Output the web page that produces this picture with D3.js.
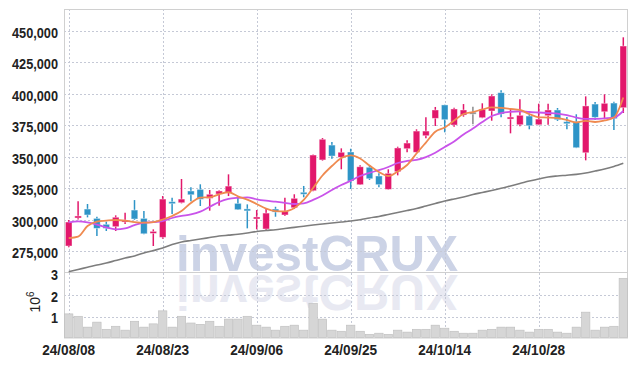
<!DOCTYPE html>
<html>
<head>
<meta charset="utf-8">
<script src="https://cdn.jsdelivr.net/npm/d3@7"></script>
<style>
  html, body { margin: 0; padding: 0; background: #ffffff; }
  svg { display: block; }
  .lbl { font-family: "Liberation Sans", Arial, sans-serif; font-weight: bold; font-size: 15px; fill: #222; }
</style>
</head>
<body>
<div id="chart"></div>
<script>
// trading days (yy/mm/dd)
const dates = [
  "24/08/08", "24/08/09", "24/08/12", "24/08/13", "24/08/14", "24/08/16", "24/08/19", "24/08/20", "24/08/21", "24/08/22",
  "24/08/23", "24/08/26", "24/08/27", "24/08/28", "24/08/29", "24/08/30", "24/09/02", "24/09/03", "24/09/04", "24/09/05",
  "24/09/06", "24/09/09", "24/09/10", "24/09/11", "24/09/12", "24/09/13", "24/09/19", "24/09/20", "24/09/23", "24/09/24",
  "24/09/25", "24/09/26", "24/09/27", "24/09/30", "24/10/02", "24/10/04", "24/10/07", "24/10/08", "24/10/10", "24/10/11",
  "24/10/14", "24/10/15", "24/10/16", "24/10/17", "24/10/18", "24/10/21", "24/10/22", "24/10/23", "24/10/24", "24/10/25",
  "24/10/28", "24/10/29", "24/10/30", "24/10/31", "24/11/01", "24/11/04", "24/11/05", "24/11/06", "24/11/07", "24/11/08"
];

const opens = [
  279200, 301400, 308500, 301100, 296400, 294500, 298200, 307700, 301100, 289300,
  286100, 314300, 313500, 322800, 324100, 317000, 320400, 321400, 313000, 308600,
  300800, 292700, 308500, 303800, 309500, 321800, 323000, 347400, 359200, 349500,
  353700, 327800, 341600, 334700, 324100, 338100, 356300, 353500, 366600, 380400,
  391000, 375100, 383000, 385300, 380900, 386200, 400700, 379900, 375300, 382200,
  375300, 382500, 387000, 377700, 377700, 353100, 391700, 385600, 392500, 388800
];
const highs = [
  299800, 314600, 312500, 302400, 298500, 303500, 305600, 315600, 306900, 292400,
  318800, 317500, 332300, 325700, 328100, 323600, 323300, 336000, 318800, 312200,
  307700, 308500, 310300, 317500, 320200, 326800, 351800, 364800, 361600, 356600,
  356300, 343200, 343400, 336800, 340000, 357900, 363000, 371700, 381200, 389400,
  391200, 388800, 391700, 389600, 392300, 399400, 402600, 388300, 395500, 384100,
  392000, 392000, 388600, 381400, 383600, 397800, 393300, 399400, 393600, 444600
];
const lows = [
  278200, 300300, 301900, 287100, 291100, 291100, 296600, 299800, 288500, 279200,
  285000, 304600, 313000, 314600, 310900, 307200, 311100, 318800, 307800, 293200,
  292400, 291300, 302400, 303000, 308500, 317800, 322500, 346800, 348400, 340000,
  324400, 327500, 331500, 325700, 323900, 335200, 353500, 353200, 364600, 374300,
  369300, 373800, 381700, 375600, 380500, 378500, 381200, 368500, 374100, 371700,
  375000, 375300, 378300, 371700, 356800, 347100, 379100, 379800, 371100, 384600
];
const closes = [
  298200, 303000, 303800, 293200, 293200, 302000, 299800, 300600, 288900, 290800,
  316400, 313000, 316400, 319800, 316200, 320200, 322800, 326700, 308000, 307900,
  302200, 305300, 306100, 306900, 317000, 320400, 351300, 363800, 350500, 353500,
  330700, 342000, 332500, 327800, 336800, 356900, 360800, 370300, 370300, 387000,
  379300, 387800, 387000, 385300, 387500, 398100, 383800, 381400, 382800, 374500,
  379800, 387000, 379300, 376900, 357100, 390200, 381200, 392300, 380100, 437700
];
const volumes = [
  1130000, 1020000, 520000, 750000, 420000, 560000, 380000, 790000, 520000, 670000,
  1270000, 520000, 1020000, 710000, 650000, 790000, 560000, 890000, 890000, 1020000,
  610000, 520000, 380000, 560000, 610000, 380000, 1620000, 890000, 380000, 330000,
  610000, 330000, 190000, 240000, 190000, 380000, 290000, 420000, 420000, 610000,
  470000, 330000, 240000, 240000, 380000, 420000, 520000, 520000, 380000, 290000,
  420000, 420000, 290000, 240000, 520000, 1210000, 380000, 520000, 560000, 2770000
];

const ma5 = [
  285500, 286700, 295000, 298600, 299300, 299800, 299300, 298200, 297700, 298200,
  300200, 303000, 306900, 313300, 317600, 317800, 320200, 321800, 318600, 316000,
  312500, 308800, 306900, 306700, 309300, 315700, 325200, 335100, 342600, 348900,
  351100, 348600, 343000, 337900, 334700, 338300, 343400, 352500, 361200, 369800,
  373100, 378700, 383800, 385400, 387400, 389000, 388700, 387900, 387000, 383800,
  381200, 381000, 380600, 379100, 377100, 378300, 377500, 378700, 381000, 396900
];
const ma20 = [
  298000, 298800, 298000, 296200, 293900, 292400, 293100, 295800, 297700, 298100,
  299000, 301400, 303000, 304200, 306500, 310300, 314100, 316500, 317400, 317800,
  316200, 315100, 314300, 313400, 312500, 313000, 315700, 319200, 323600, 327500,
  330900, 334700, 337200, 339300, 341800, 345000, 346600, 347500, 349700, 353100,
  357700, 362000, 367600, 372300, 377500, 382200, 384600, 385600, 386000, 385400,
  385000, 384600, 384200, 383000, 381000, 380000, 379900, 380400, 381000, 386200
];
const ma120 = [
  258800, 260600, 262300, 264100, 265700, 267700, 269700, 271300, 273700, 275600,
  277600, 280400, 282400, 283600, 284700, 285900, 287100, 287800, 288500, 289500,
  290700, 291500, 292100, 293100, 294000, 294900, 295800, 296600, 297400, 298200,
  299000, 300000, 301400, 302600, 304200, 305800, 307300, 308900, 310900, 312900,
  314900, 316500, 318000, 320000, 321600, 323200, 324900, 326800, 328700, 330700,
  332300, 333900, 334700, 335300, 336000, 337100, 338600, 340200, 342200, 344700
];

const priceTicks = [275000, 300000, 325000, 350000, 375000, 400000, 425000, 450000];
const volTicks = [1, 2, 3];
const dateTicks = ["24/08/08", "24/08/23", "24/09/06", "24/09/25", "24/10/14", "24/10/28"];

const width = 637;
const height = 366;
const plotLeft = 64, plotRight = 628;
const plotTop = 9, plotSplit = 272.3, plotBottom = 337.5;

const svg = d3
  .select("#chart")
  .append("svg")
  .attr("width", width)
  .attr("height", height);

const x = d3.scaleBand().domain(dates).range([plotLeft, plotRight]).padding(0);
const cx = (d) => x(d) + x.bandwidth() / 2;

const y = d3.scaleLinear().domain([258360, 467040]).range([plotSplit, plotTop]);
const yVol = d3.scaleLinear().domain([0, 3e6]).range([338.4, 273.3]);

// watermark + reflection
const wm = svg.append("g");
wm.append("text")
  .attr("x", 176)
  .attr("y", 271)
  .attr("textLength", 282)
  .attr("lengthAdjust", "spacingAndGlyphs")
  .style("font-family", "Liberation Sans, Arial, sans-serif")
  .style("font-weight", "bold")
  .style("font-size", "50px")
  .style("fill", "#ccd3e6")
  .text("investCRUX");
wm.append("text")
  .attr("x", 176)
  .attr("y", 271)
  .attr("transform", `translate(0,${2 * plotSplit + 1}) scale(1,-1)`)
  .attr("textLength", 282)
  .attr("lengthAdjust", "spacingAndGlyphs")
  .style("font-family", "Liberation Sans, Arial, sans-serif")
  .style("font-weight", "bold")
  .style("font-size", "50px")
  .style("fill", "#e8e9f2")
  .text("investCRUX");

// grid
const grid = svg.append("g")
  .attr("stroke", "#c5c9d6")
  .attr("stroke-width", 1)
  .attr("stroke-dasharray", "2,2");

grid.selectAll("line.h")
  .data(priceTicks)
  .enter()
  .append("line")
  .attr("x1", plotLeft)
  .attr("x2", plotRight)
  .attr("y1", (d) => Math.round(y(d)) + 0.5)
  .attr("y2", (d) => Math.round(y(d)) + 0.5);

grid.selectAll("line.v")
  .data(volTicks.slice(0, 2))
  .enter()
  .append("line")
  .attr("x1", plotLeft)
  .attr("x2", plotRight)
  .attr("y1", (d) => Math.round(yVol(d * 1e6)) + 0.5)
  .attr("y2", (d) => Math.round(yVol(d * 1e6)) + 0.5);

grid.selectAll("line.x")
  .data(dateTicks)
  .enter()
  .append("line")
  .attr("x1", (d) => Math.round(cx(d)) + 0.5)
  .attr("x2", (d) => Math.round(cx(d)) + 0.5)
  .attr("y1", plotTop)
  .attr("y2", plotBottom);

// frame
svg.append("rect")
  .attr("x", plotLeft + 0.5)
  .attr("y", plotTop + 0.5)
  .attr("width", plotRight - plotLeft - 1)
  .attr("height", plotBottom - plotTop)
  .attr("fill", "none")
  .attr("stroke", "#d0d0d0");
svg.append("line")
  .attr("x1", plotLeft)
  .attr("x2", plotRight)
  .attr("y1", Math.round(plotSplit) + 0.5)
  .attr("y2", Math.round(plotSplit) + 0.5)
  .attr("stroke", "#cfcfcf");

// volume bars
svg.append("g")
  .selectAll("rect")
  .data(dates)
  .enter()
  .append("rect")
  .attr("x", (d) => x(d) + 0.5)
  .attr("width", x.bandwidth() - 1)
  .attr("y", (d, i) => yVol(volumes[i]))
  .attr("height", (d, i) => plotBottom - yVol(volumes[i]))
  .attr("fill", "#d6d6d6")
  .attr("stroke", "#bdbdbd")
  .attr("stroke-width", 0.6);

// candles
const upColor = "#e2176b";
const downColor = "#2e94c7";
const colorOf = (i) =>
  closes[i] > opens[i] ? upColor : closes[i] < opens[i] ? downColor : "#8a8a8a";

const candles = svg.append("g");
candles.selectAll("line")
  .data(dates)
  .enter()
  .append("line")
  .attr("x1", (d) => cx(d))
  .attr("x2", (d) => cx(d))
  .attr("y1", (d, i) => y(highs[i]))
  .attr("y2", (d, i) => y(lows[i]))
  .attr("stroke", (d, i) => colorOf(i))
  .attr("stroke-width", 1.5);

const bodyW = 6.6;
candles.selectAll("rect")
  .data(dates)
  .enter()
  .append("rect")
  .attr("x", (d) => cx(d) - bodyW / 2)
  .attr("width", bodyW)
  .attr("y", (d, i) => y(Math.max(opens[i], closes[i])))
  .attr("height", (d, i) => Math.max(2, Math.abs(y(opens[i]) - y(closes[i]))))
  .attr("fill", (d, i) => colorOf(i))
  .attr("stroke", "#ffffff")
  .attr("stroke-opacity", 0.5)
  .attr("stroke-width", 0.8);

// moving averages
const maLine = (vals) =>
  d3.line()
    .x((d) => cx(d))
    .y((d, i) => y(vals[i]))
    .curve(d3.curveMonotoneX)(dates);

svg.append("path")
  .attr("d", maLine(ma120))
  .attr("fill", "none")
  .attr("stroke", "#7d7d7d")
  .attr("stroke-width", 1.6);
svg.append("path")
  .attr("d", maLine(ma20))
  .attr("fill", "none")
  .attr("stroke", "#c953ea")
  .attr("stroke-width", 1.8);
svg.append("path")
  .attr("d", maLine(ma5))
  .attr("fill", "none")
  .attr("stroke", "#ef8a50")
  .attr("stroke-width", 1.8);

// axis labels (condensed to the reference widths)
svg.append("g")
  .selectAll("text")
  .data(priceTicks)
  .enter()
  .append("text")
  .attr("class", "lbl")
  .attr("x", 58)
  .attr("y", (d) => y(d) + 7)
  .attr("text-anchor", "end")
  .attr("textLength", 46)
  .attr("lengthAdjust", "spacingAndGlyphs")
  .text((d) => d3.format(",")(d));

svg.append("g")
  .selectAll("text")
  .data(volTicks)
  .enter()
  .append("text")
  .attr("class", "lbl")
  .attr("x", 58)
  .attr("y", (d) => yVol(d * 1e6) + 6.5)
  .attr("text-anchor", "end")
  .attr("textLength", 7)
  .attr("lengthAdjust", "spacingAndGlyphs")
  .text((d) => d);

const unit = svg.append("text")
  .attr("class", "lbl")
  .attr("transform", "translate(40,302) rotate(-90)")
  .attr("text-anchor", "middle")
  .style("font-weight", "normal")
  .style("font-size", "14px");
unit.append("tspan").text("10");
unit.append("tspan").attr("dy", -6).style("font-size", "10px").text("6");

svg.append("g")
  .selectAll("text")
  .data(dateTicks)
  .enter()
  .append("text")
  .attr("class", "lbl")
  .attr("x", (d) => cx(d) - 26.5)
  .attr("y", 355)
  .attr("textLength", 53)
  .attr("lengthAdjust", "spacingAndGlyphs")
  .text((d) => d);
</script>
</body>
</html>
